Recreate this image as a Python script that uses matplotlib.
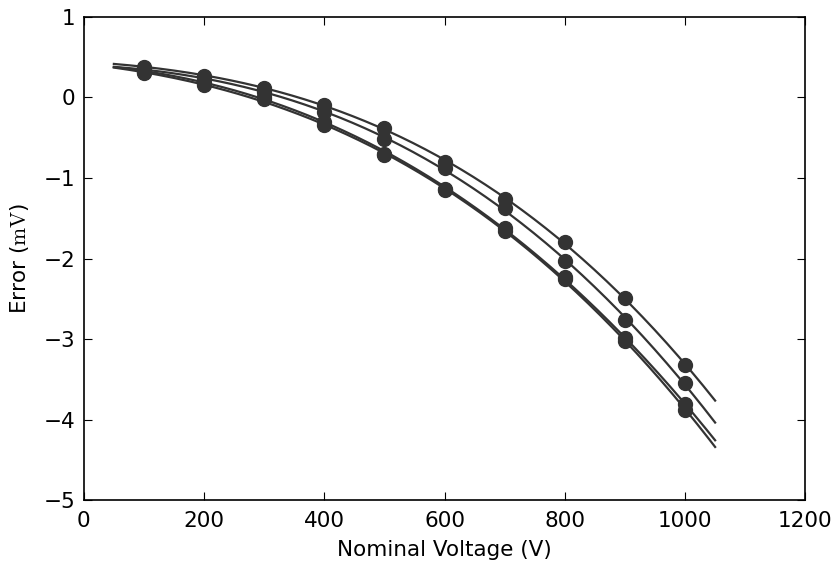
import matplotlib
matplotlib.use("Agg")
import matplotlib.pyplot as plt
import numpy as np

plt.rcParams["mathtext.fontset"] = "cm"

voltage = [100, 200, 300, 400, 500, 600, 700, 800, 900, 1000]
err_a = [0.38, 0.27, 0.12, -0.10, -0.38, -0.80, -1.26, -1.80, -2.49, -3.32]
err_b = [0.35, 0.23, 0.07, -0.18, -0.52, -0.88, -1.37, -2.03, -2.76, -3.55]
err_c = [0.32, 0.18, 0.01, -0.30, -0.70, -1.14, -1.62, -2.23, -2.99, -3.81]
err_d = [0.30, 0.16, -0.02, -0.34, -0.72, -1.15, -1.66, -2.25, -3.02, -3.88]

fig = plt.figure(figsize=(8.38, 5.62), dpi=100)
ax = fig.add_axes([0.100, 0.110, 0.861, 0.860])

vfit = np.linspace(50, 1050, 200)
col = "#333333"
for err in (err_a, err_b, err_c, err_d):
    coef = np.polyfit(voltage, err, 3)
    ax.plot(vfit, np.polyval(coef, vfit), color=col, linewidth=1.6)
    ax.plot(voltage, err, linestyle="", marker="o", markersize=10, color=col)

ax.set_xlim(0, 1200)
ax.set_ylim(-5, 1)
ax.set_xticks(range(0, 1201, 200))
ax.set_yticks(range(-5, 2))
ax.set_yticklabels(["\u22125", "\u22124", "\u22123", "\u22122", "\u22121", "0", "1"])
ax.tick_params(direction="in", top=True, right=True, labelsize=15.5, length=6, pad=6)
ax.tick_params(axis="x", pad=8)
for s in ax.spines.values():
    s.set_linewidth(1.2)
ax.set_xlabel("Nominal Voltage (V)", fontsize=15.5, labelpad=6)
ax.set_ylabel(r"Error ($\mathrm{mV}$)", fontsize=15.5, labelpad=9)

plt.savefig("out.png", dpi=100)
